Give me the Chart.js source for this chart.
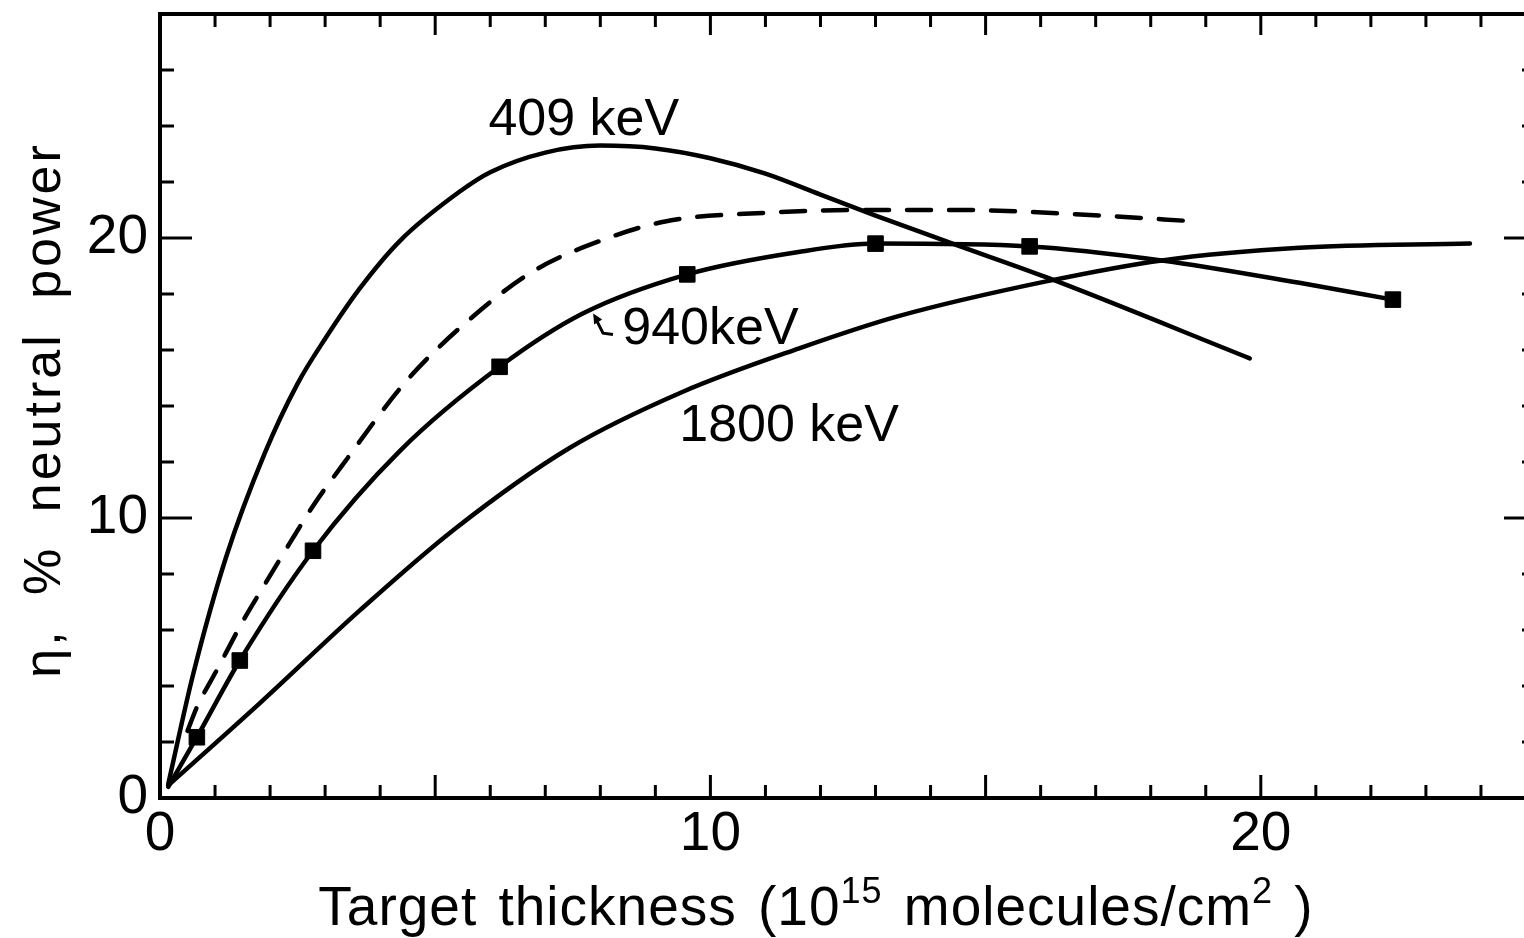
<!DOCTYPE html>
<html>
<head>
<meta charset="utf-8">
<script src="https://cdn.jsdelivr.net/npm/chart.js@4.4.1/dist/chart.umd.min.js"></script>
<style>
  html, body { margin: 0; padding: 0; background: #fff; overflow: hidden; }
  #clip { width: 1524px; height: 938px; overflow: hidden; position: relative; }
  #chart { display: block; position: absolute; left: 0; top: 0; }
</style>
</head>
<body>
<div id="clip"><canvas id="chart" width="1536" height="938"></canvas></div>
<script>
// curves: [target thickness, % neutral power]
const kev409 = [[0.15, 0.5], [0.6, 4.4], [1.2, 8.6], [1.9, 12.3], [2.5, 14.8], [3.0, 16.4],
  [3.63, 18.2], [4.36, 19.9], [5.44, 21.65], [6.0, 22.35], [7.0, 23.05], [8.0, 23.3], [9.0, 23.2],
  [10.0, 22.85], [11.0, 22.3], [12.0, 21.55], [13.0, 20.8], [14.4, 19.8], [16.1, 18.6], [19.8, 15.7]];
const kev940Dashed = [[0.5, 2.4], [0.67, 3.24], [1.05, 4.63], [1.49, 6.26], [1.91, 7.65], [2.36, 9.11],
  [2.78, 10.43], [3.30, 11.85], [4.48, 14.9], [5.57, 17.0], [6.77, 18.8], [8.0, 19.9],
  [9.2, 20.6], [11.0, 20.9], [12.8, 21.0], [14.5, 21.0], [17.1, 20.8], [18.75, 20.6]];
const kev940 = [[0.15, 0.4], [0.67, 2.17], [1.45, 4.91], [2.78, 8.83], [4.36, 12.4], [6.17, 15.4],
  [7.68, 17.3], [9.58, 18.7], [11.6, 19.5], [13.0, 19.8], [15.8, 19.7], [18.2, 19.2], [20.7, 18.4], [22.4, 17.8]];
const kev940Points = [[0.67, 2.17], [1.45, 4.91], [2.78, 8.83], [6.17, 15.4], [9.58, 18.7],
  [13.0, 19.8], [15.8, 19.7], [22.4, 17.8]];
const kev1800 = [[0.15, 0.45], [1.81, 3.38], [3.63, 6.7], [5.35, 9.6], [7.44, 12.5], [9.49, 14.5],
  [11.6, 16.05], [13.4, 17.2], [16.1, 18.45], [18.2, 19.2], [20.7, 19.65], [23.8, 19.8]];

const xLabels = [0, 10, 20];
const yLabels = [0, 10, 20];

// curve names written on the plot (x centre, baseline y in data units)
const curveNames = [
  { text: '409 keV', x: 7.7, y: 23.67 },
  { text: '940keV', x: 10.0, y: 16.23 },
  { text: '1800 keV', x: 11.43, y: 12.74 }
];
const arrow940 = { tip: [7.87, 17.3], bend: [8.05, 16.6], end: [8.23, 16.55] };

const FONT = '"Liberation Sans", "DejaVu Sans", sans-serif';
const toXY = pts => pts.map(([x, y]) => ({ x, y }));

const lineStyle = {
  borderColor: '#000',
  borderWidth: 4.5,
  pointRadius: 0,
  fill: false,
  cubicInterpolationMode: 'monotone',
  borderCapStyle: 'round',
  borderJoinStyle: 'round'
};

// frame, inward ticks, curve names and axis titles
const figurePlugin = {
  id: 'figure',
  afterDraw(chart) {
    const { ctx, chartArea: a, scales: { x, y } } = chart;
    ctx.save();
    ctx.strokeStyle = '#000';
    ctx.fillStyle = '#000';

    ctx.lineWidth = 4;
    ctx.strokeRect(a.left, a.top, a.right - a.left, a.bottom - a.top);

    ctx.lineWidth = 3;
    ctx.beginPath();
    x.ticks.forEach(t => {
      const px = x.getPixelForValue(t.value);
      const major = t.value % 5 === 0;
      ctx.moveTo(px, a.bottom);
      ctx.lineTo(px, a.bottom - (major ? 23 : 13));
      ctx.moveTo(px, a.top);
      ctx.lineTo(px, a.top + (major ? 21 : 13));
    });
    y.ticks.forEach(t => {
      const py = y.getPixelForValue(t.value);
      const len = t.value % 10 === 0 ? 32 : 14;
      ctx.moveTo(a.left, py);
      ctx.lineTo(a.left + len, py);
      ctx.moveTo(a.right, py);
      ctx.lineTo(a.right - len, py);
    });
    ctx.stroke();

    ctx.font = '52px ' + FONT;
    ctx.textAlign = 'center';
    ctx.textBaseline = 'alphabetic';
    curveNames.forEach(n => {
      ctx.fillText(n.text, x.getPixelForValue(n.x), y.getPixelForValue(n.y));
    });

    // small hooked arrow from the 940 keV label to its curve
    const P = p => [x.getPixelForValue(p[0]), y.getPixelForValue(p[1])];
    const [tx, ty] = P(arrow940.tip), [bx, by] = P(arrow940.bend), [ex, ey] = P(arrow940.end);
    ctx.lineWidth = 3;
    ctx.beginPath();
    ctx.moveTo(ex, ey);
    ctx.lineTo(bx, by);
    ctx.lineTo(tx + 3, ty + 6);
    ctx.stroke();
    ctx.beginPath();
    ctx.moveTo(tx, ty);
    ctx.lineTo(tx + 9, ty + 6);
    ctx.lineTo(tx + 1, ty + 11);
    ctx.closePath();
    ctx.fill();

    // x title with superscripts
    const runs = [['Target thickness (10', false], ['15', true], [' molecules/cm', false], ['2', true], [' )', false]];
    ctx.letterSpacing = '1px';
    ctx.wordSpacing = '5px';
    const big = '55px ' + FONT, small = '36px ' + FONT;
    let total = 0;
    runs.forEach(([t, sup]) => { ctx.font = sup ? small : big; total += ctx.measureText(t).width; });
    let cx = 816 - total / 2;
    const base = 925;
    ctx.textAlign = 'left';
    runs.forEach(([t, sup]) => {
      ctx.font = sup ? small : big;
      ctx.fillText(t, cx, sup ? base - 22 : base);
      cx += ctx.measureText(t).width;
    });

    // y title
    ctx.save();
    ctx.translate(46, 410);
    ctx.rotate(-Math.PI / 2);
    ctx.font = '52px ' + FONT;
    ctx.letterSpacing = '3px';
    ctx.wordSpacing = '16px';
    ctx.textAlign = 'center';
    ctx.textBaseline = 'middle';
    ctx.fillText('\u03b7, % neutral power', 0, 0);
    ctx.restore();

    ctx.restore();
  }
};

new Chart(document.getElementById('chart'), {
  type: 'line',
  data: {
    datasets: [
      { label: '409 keV', data: toXY(kev409), ...lineStyle },
      { label: '940 keV (dashed)', data: toXY(kev940Dashed), ...lineStyle, borderDash: [24, 18] },
      { label: '940 keV', data: toXY(kev940), ...lineStyle },
      {
        label: '940 keV data', data: toXY(kev940Points), showLine: false,
        pointStyle: 'rect', pointRadius: 11, pointBackgroundColor: '#000',
        pointBorderColor: '#000', pointBorderWidth: 1
      },
      { label: '1800 keV', data: toXY(kev1800), ...lineStyle }
    ]
  },
  options: {
    responsive: false,
    animation: false,
    layout: { autoPadding: false, padding: { top: 14, right: 0, bottom: 0, left: 0 } },
    plugins: { legend: { display: false }, tooltip: { enabled: false } },
    scales: {
      x: {
        type: 'linear',
        min: 0,
        max: 25,
        grid: { display: false, drawTicks: false },
        border: { display: false },
        ticks: {
          stepSize: 1,
          autoSkip: false,
          maxRotation: 0,
          padding: 4,
          color: '#000',
          font: { family: FONT, size: 55 },
          callback: v => (xLabels.includes(v) ? String(v) : '')
        },
        afterFit: s => {
          s.height = 140;
          s.paddingLeft = 0;
          s.paddingRight = 0;
        }
      },
      y: {
        min: 0,
        max: 28,
        grid: { display: false, drawTicks: false },
        border: { display: false },
        ticks: {
          stepSize: 2,
          autoSkip: false,
          padding: 12,
          color: '#000',
          font: { family: FONT, size: 55 },
          callback: v => (yLabels.includes(v) ? String(v) : '')
        },
        afterFit: s => {
          s.width = 160;
          s.paddingTop = 0;
          s.paddingBottom = 0;
        }
      }
    }
  },
  plugins: [figurePlugin]
});
</script>
</body>
</html>
